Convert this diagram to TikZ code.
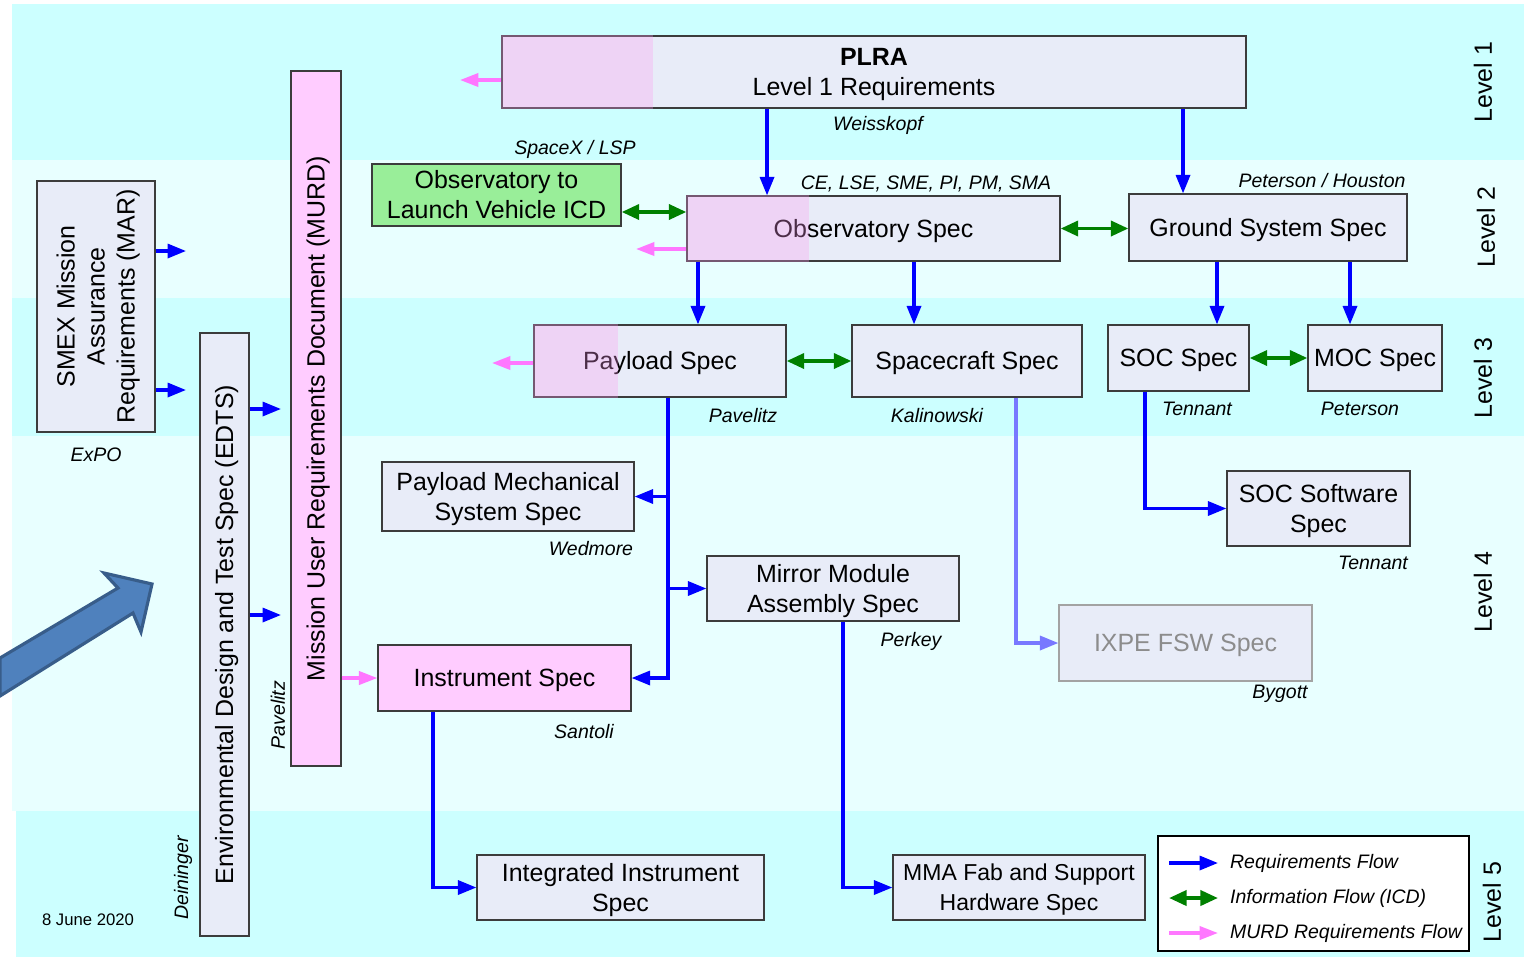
\documentclass[tikz,border=0pt]{standalone}
\usepackage{fontspec}
\setmainfont{Liberation Sans}
\usetikzlibrary{arrows.meta, positioning}
\definecolor{cband}{HTML}{CCFFFF}
\definecolor{cbandlt}{HTML}{E8FFFF}
\definecolor{cbox}{HTML}{E8ECF8}
\definecolor{cedge}{HTML}{3C3C3C}
\definecolor{ctint}{HTML}{FC9AF1}
\definecolor{cmurd}{HTML}{FFCCFF}
\definecolor{cicd}{HTML}{99EE99}
\definecolor{creq}{HTML}{0000FF}
\definecolor{cinfo}{HTML}{008000}
\definecolor{cmflow}{HTML}{FF77FF}
\definecolor{cfsw}{HTML}{7878FF}
\definecolor{cgreyed}{HTML}{8C8C8C}
\definecolor{cbig}{HTML}{4F81BD}
\definecolor{cbigedge}{HTML}{385D8A}
\tikzset{
  every picture/.style={font=\fontsize{14.2}{17.1}\selectfont},
  box/.style={draw=cedge, fill=cbox, line width=0.7pt, align=center, inner sep=2pt, text depth=0.5pt},
  sz/.style 2 args={minimum width=#1*0.02cm, minimum height=#2*0.02cm},
  who/.style={font=\fontsize{11.1}{13}\selectfont\itshape, inner sep=1pt},
  lvl/.style={rotate=90, inner sep=0pt},
  tint/.style={fill=ctint, fill opacity=0.3},
  req/.style={-{Triangle[length=10.5pt, width=8pt]}, draw=creq, line width=1.8pt},
  fswflow/.style={req, draw=cfsw},
  info/.style={{Triangle[length=10pt, width=8.5pt]}-{Triangle[length=10pt, width=8.5pt]}, draw=cinfo, line width=2.2pt},
  mflow/.style={-{Triangle[length=10.5pt, width=7.5pt]}, draw=cmflow, line width=1.9pt},
}
\begin{document}
\begin{tikzpicture}[x=0.02cm, y=-0.02cm]
  \useasboundingbox (0,0) rectangle (1524,958);
  % level bands
  \foreach \a/\b/\c in {4/160/cband, 160/298/cbandlt, 298/436/cband, 436/811/cbandlt}
    \fill[\c] (12,\a) rectangle (1524,\b);
  \fill[cband] (16,811) rectangle (1524,957);
  \foreach \n/\x/\y in {1/1483/82, 2/1486/227, 3/1483/378, 4/1483/592, 5/1492/902}
    \node[lvl] (lv\n) at (\x,\y) {Level \n};
  % big arrow
  \filldraw[fill=cbig, draw=cbigedge, line width=1.8pt]
    (0,658) -- (118,588) -- (104,573) -- (152,584) -- (141,632) -- (133,613) -- (0,696) -- cycle;
  % side documents
  \node[box, rotate=90, sz={251}{118}] (mar) at (96,306.5) {SMEX Mission\\Assurance\\Requirements (MAR)};
  \node[box, rotate=90, sz={603}{49}] (edts) at (224.5,634.5) {Environmental Design and Test Spec (EDTS)};
  \node[box, fill=cmurd, rotate=90, sz={695}{50}] (murd) at (316,418.5) {Mission User Requirements Document (MURD)};
  % specs
  \node[box, sz={744}{72}] (plra) at (874,72) {\textbf{PLRA}\\Level 1 Requirements};
  \node[box, fill=cicd, sz={249}{62}] (icd) at (496.5,195) {Observatory to\\Launch Vehicle ICD};
  \node[box, sz={373}{65}] (obs) at (873.5,228.5) {Observatory Spec};
  \node[box, sz={278}{67}] (gss) at (1268,227.5) {Ground System Spec};
  \node[box, sz={252}{72}] (pay) at (660,361) {Payload Spec};
  \node[box, sz={230}{72}] (sc) at (967,361) {Spacecraft Spec};
  \node[box, sz={141}{66}] (soc) at (1178.5,358) {SOC Spec};
  \node[box, sz={134}{66}] (moc) at (1375,358) {MOC Spec};
  \node[box, sz={183}{75}] (socsw) at (1318.5,508.5) {SOC Software\\Spec};
  \node[box, draw=cgreyed!80, text=cgreyed, sz={253}{76}] (fsw) at (1185.5,643) {IXPE FSW Spec};
  \node[box, sz={252}{69}] (pms) at (508,496.5) {Payload Mechanical\\System Spec};
  \node[box, sz={252}{65}] (mma) at (833,588.5) {Mirror Module\\Assembly Spec};
  \node[box, fill=cmurd, sz={253}{66}] (inst) at (504.5,678) {Instrument Spec};
  \node[box, sz={287}{65}] (iis) at (620.5,887.5) {Integrated Instrument\\Spec};
  \node[box, sz={252}{65}, font=\fontsize{13.1}{17.1}\selectfont] (mmafab) at (1019,887.5) {MMA Fab and Support\\Hardware Spec};
  \fill[tint] (plra.north west) rectangle ([xshift=3.04cm]plra.south west);
  \fill[tint] (obs.north west) rectangle ([xshift=2.46cm]obs.south west);
  \fill[tint] (pay.north west) rectangle ([xshift=1.7cm]pay.south west);
  % owners
  \node[who] (wplra) at (878,125) {Weisskopf};
  \node[who] (wicd) at (575,149) {SpaceX / LSP};
  \node[who] (wobs) at (926,184) {CE, LSE, SME, PI, PM, SMA};
  \node[who] (wgss) at (1322,181) {Peterson / Houston};
  \node[who] (wpay) at (743,416) {Pavelitz};
  \node[who] (wsc) at (937,416) {Kalinowski};
  \node[who] (wsoc) at (1197,409) {Tennant};
  \node[who] (wmoc) at (1360,409) {Peterson};
  \node[who] (wmar) at (96,455) {ExPO};
  \node[who] (wpms) at (591,549) {Wedmore};
  \node[who] (wsocsw) at (1373,563) {Tennant};
  \node[who] (wmma) at (911,641) {Perkey};
  \node[who] (wfsw) at (1280,694) {Bygott};
  \node[who] (winst) at (584,732) {Santoli};
  \node[who, rotate=90] (wmurd) at (278,715) {Pavelitz};
  \node[who, rotate=90] (wedts) at (183,878) {Deininger};
  \node[font=\fontsize{9.5}{11}\selectfont] (date) at (88,920) {8 June 2020};
  % requirements flow
  \draw[req] ([xshift=-2.13cm]obs.north |- plra.south) -- ([xshift=-2.13cm]obs.north);
  \draw[req] ([xshift=-1.7cm]gss.north |- plra.south) -- ([xshift=-1.7cm]gss.north);
  \draw[req] ([xshift=0.76cm]pay.north |- obs.south) -- ([xshift=0.76cm]pay.north);
  \draw[req] ([xshift=-1.06cm]sc.north |- obs.south) -- ([xshift=-1.06cm]sc.north);
  \draw[req] ([xshift=0.77cm]soc.north |- gss.south) -- ([xshift=0.77cm]soc.north);
  \draw[req] ([xshift=-0.5cm]moc.north |- gss.south) -- ([xshift=-0.5cm]moc.north);
  \draw[req] ([xshift=-0.67cm]soc.south) |- (socsw.west);
  \draw[fswflow] ([xshift=0.98cm]sc.south) |- (fsw.west);
  \draw[req] ([xshift=0.16cm]pay.south) |- (inst.east);
  \draw[req] ([xshift=0.16cm]pay.south |- pms.east) -- (pms.east);
  \draw[req] ([xshift=0.16cm]pay.south |- mma.west) -- (mma.west);
  \draw[req] ([xshift=-1.43cm]inst.south) |- (iis.west);
  \draw[req] ([xshift=0.2cm]mma.south) |- (mmafab.west);
  \coordinate (marout1) at (186,251);
  \coordinate (marout2) at (186,390);
  \coordinate (edtsout1) at (281,409);
  \coordinate (edtsout2) at (281,615);
  \foreach \u/\v in {mar/marout1, mar/marout2, edts/edtsout1, edts/edtsout2}
    \draw[req] (\u.south |- \v) -- (\v);
  % information flow
  \draw[info] ([yshift=-0.34cm]icd.east) -- ([yshift=-0.34cm]icd.east -| obs.west);
  \draw[info] (obs.east) -- (obs.east -| gss.west);
  \draw[info] (pay.east) -- (sc.west);
  \draw[info] (soc.east) -- (moc.west);
  % MURD flow
  \coordinate (plraout) at (460,80);
  \coordinate (obsout) at (636,249);
  \coordinate (payout) at (492,363);
  \foreach \u/\v in {plra/plraout, obs/obsout, pay/payout}
    \draw[mflow] (\u.west |- \v) -- (\v);
  \draw[mflow] (murd.south |- inst.west) -- (inst.west);
  % legend
  \node[draw=black, fill=white, line width=0.7pt, sz={311}{115}] (legend) at (1313.5,893.5) {};
  \foreach \i/\y/\st/\txt in {1/863/req/Requirements Flow, 2/898/info/Information Flow (ICD), 3/933/mflow/MURD Requirements Flow} {
    \coordinate (k\i) at (1169,\y);
    \node[who, right=1.18cm of k\i] (key\i) {\txt};
    \draw[\st] (k\i) -- ([xshift=-0.2cm]key\i.west);
  }
\end{tikzpicture}
\end{document}
